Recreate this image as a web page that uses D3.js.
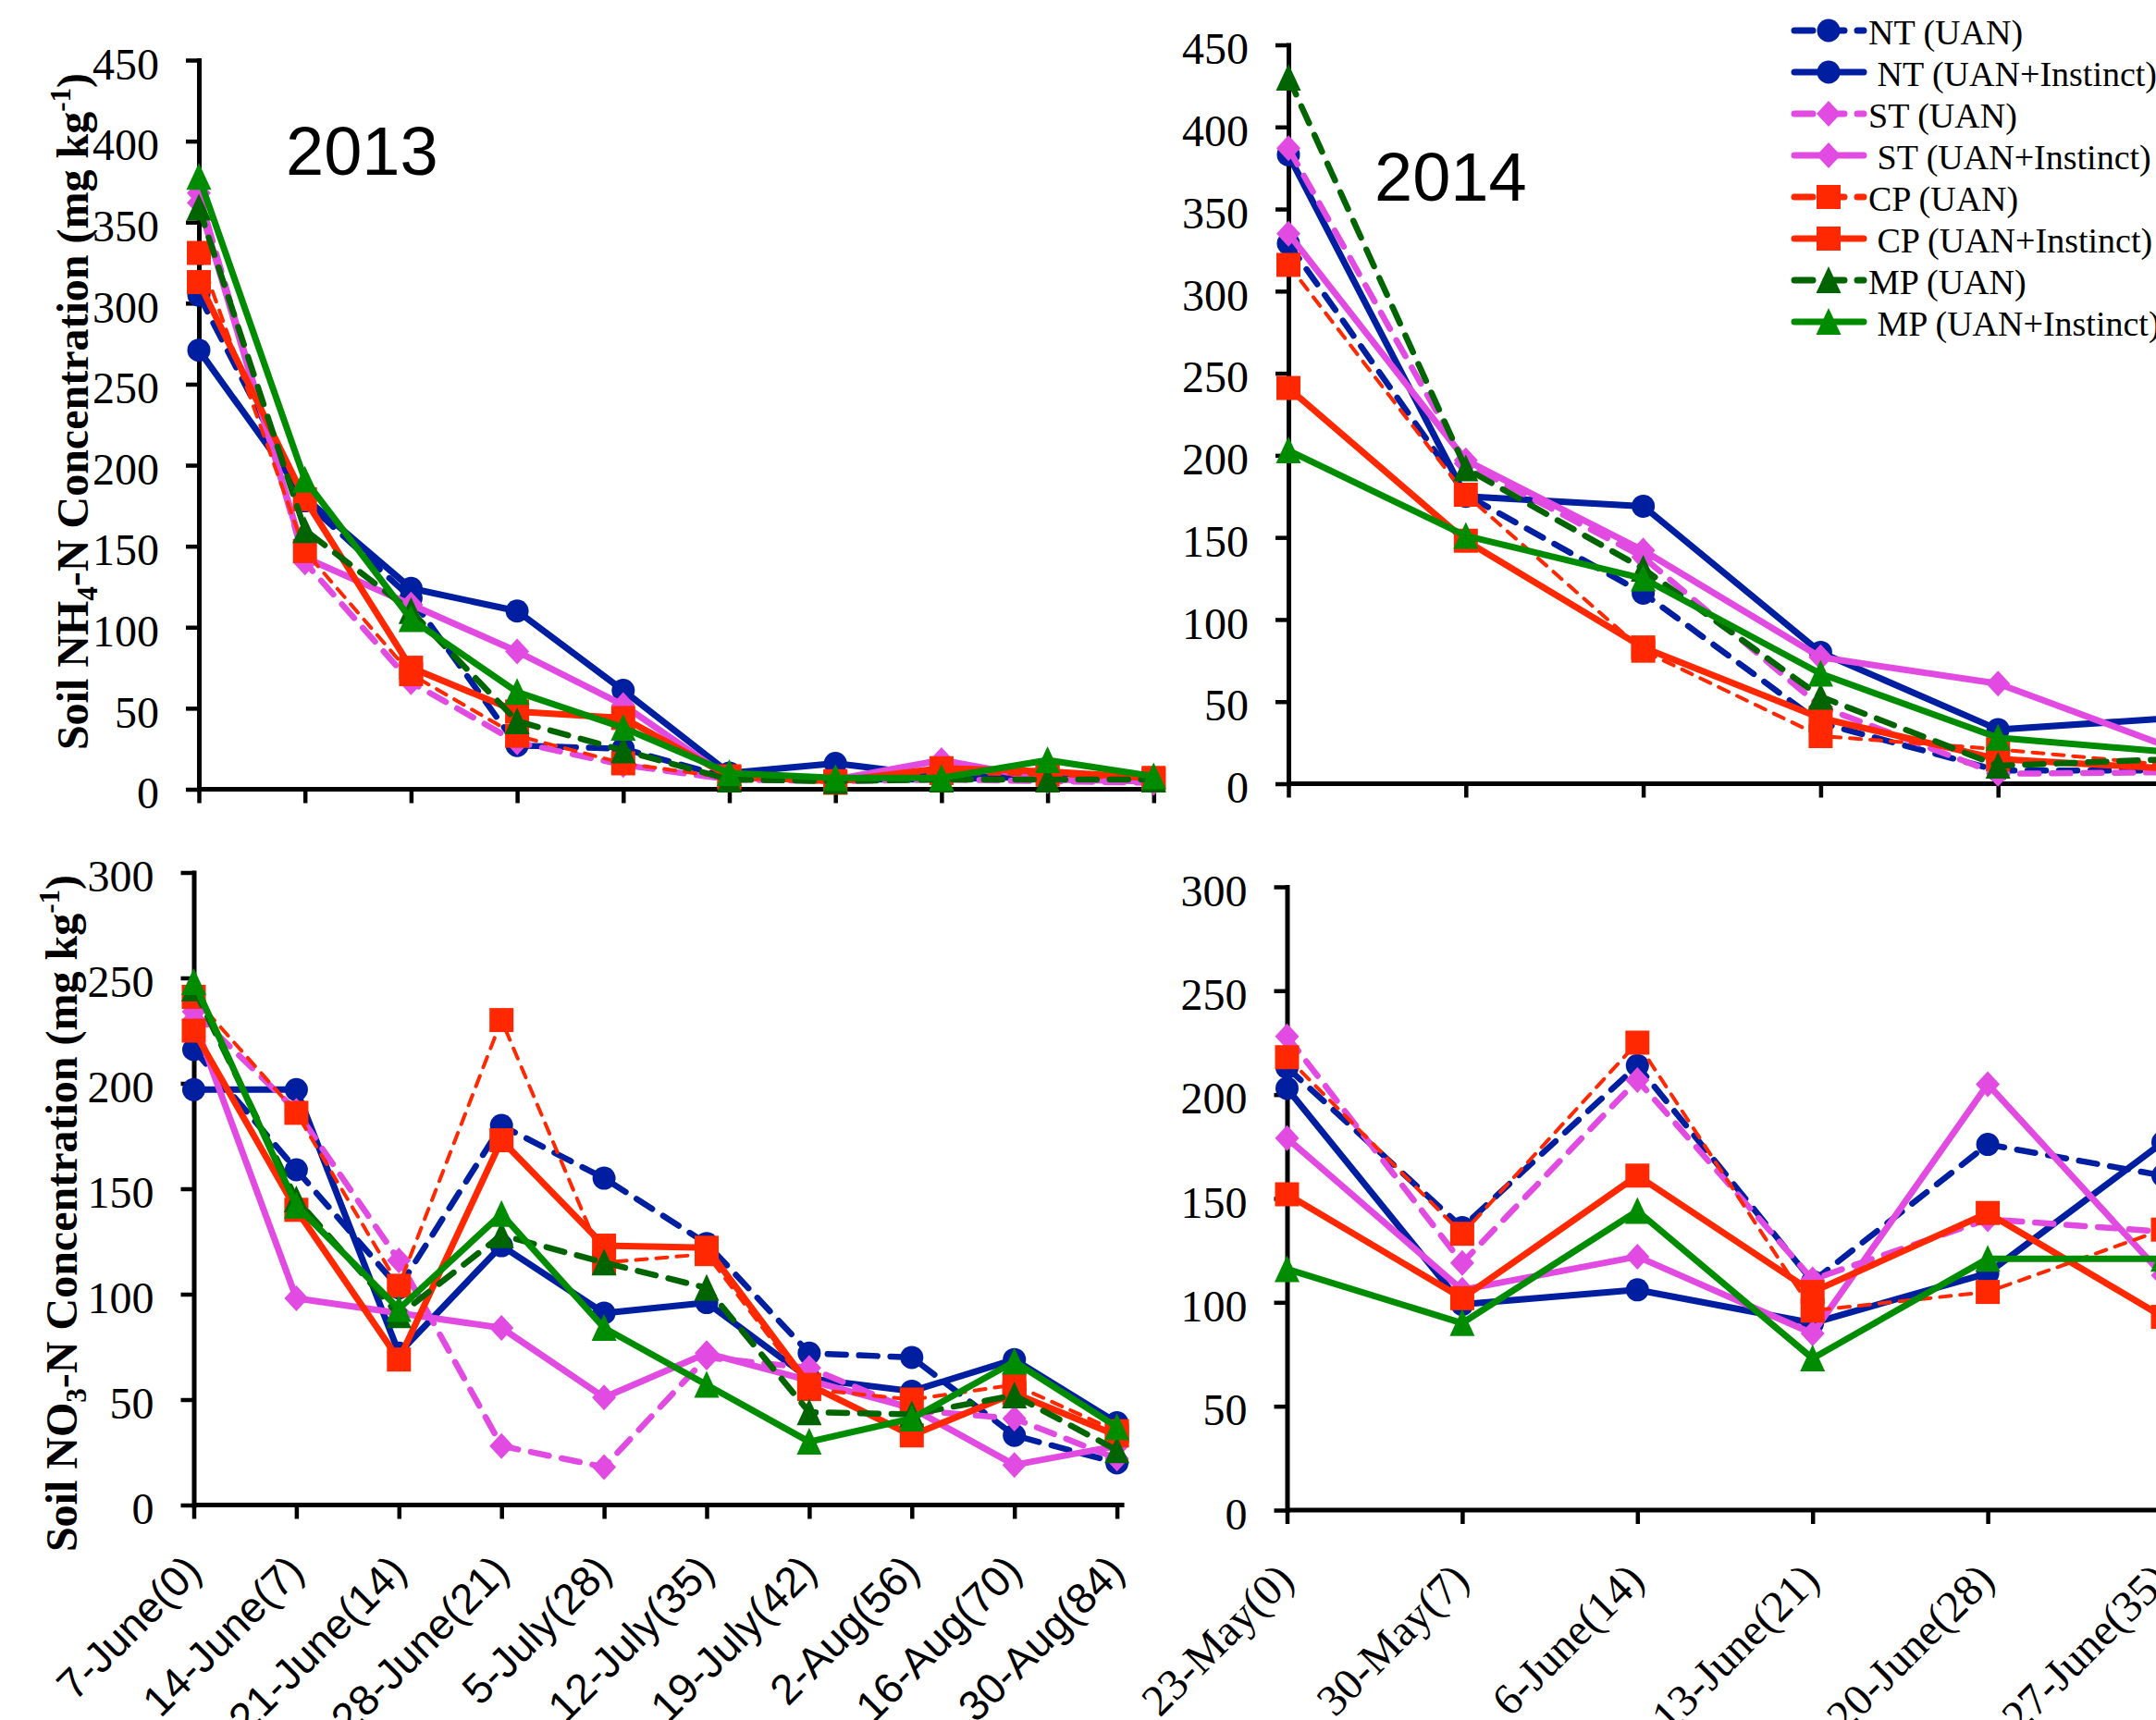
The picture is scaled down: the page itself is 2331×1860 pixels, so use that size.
<!DOCTYPE html>
<html><head><meta charset="utf-8">
<script src="https://cdn.jsdelivr.net/npm/d3@7"></script>
<style>body{margin:0;background:#fff;} svg{display:block;background:#fff;}</style>
</head><body>
<svg id="chart" width="2331" height="1860"></svg>
<script>
// ---------- data ----------
const cats2013 = ["7-June(0)","14-June(7)","21-June(14)","28-June(21)","5-July(28)","12-July(35)","19-July(42)","2-Aug(56)","16-Aug(70)","30-Aug(84)"];
const cats2014 = ["23-May(0)","30-May(7)","6-June(14)","13-June(21)","20-June(28)","27-June(35)"];
const seriesNames = ["NT (UAN)"," NT (UAN+Instinct)","ST (UAN)"," ST (UAN+Instinct)","CP (UAN)"," CP (UAN+Instinct)","MP (UAN)"," MP (UAN+Instinct)"];
const nh4Ticks = [0,50,100,150,200,250,300,350,400,450];
const no3Ticks = [0,50,100,150,200,250,300];

// Soil NH4-N, 2013 (series order as seriesNames)
const nh4_2013 = [
  [305,178,118,27,25,7,6,6,8,5],
  [271,180,124,110,61,10,16,8,7,5],
  [368,140,66,29,15,6,5,6,5,4],
  [362,143,114,85,52,7,6,18,6,5],
  [331,147,71,33,16,7,4,10,9,6],
  [313,179,75,48,44,8,5,13,11,7],
  [359,160,110,42,24,6,5,6,6,6],
  [378,191,105,60,38,10,7,7,18,8]
];
// Soil NH4-N, 2014
const nh4_2014 = [
  [329,176,116,37,8,8],
  [383,175,169,80,33,40],
  [387,195,138,47,6,7],
  [335,197,142,77,61,21],
  [316,176,81,29,21,11],
  [241,148,83,40,15,9],
  [430,192,131,53,11,15],
  [203,151,125,67,28,19]
];
// Soil NO3-N, 2013
const no3_2013 = [
  [216,159,103,180,155,124,72,70,33,20],
  [197,197,72,123,91,96,60,54,69,39],
  [234,187,116,28,18,70,65,45,41,22],
  [230,98,91,84,51,72,59,46,19,28],
  [241,186,104,230,115,119,55,50,57,35],
  [225,140,69,173,123,122,57,33,53,33],
  [245,145,90,128,115,103,44,43,52,26],
  [248,142,93,138,84,57,30,41,68,37]
];
// Soil NO3-N, 2014 (MP (UAN) not shown)
const no3_2014 = [
  [213,136,214,110,176,161],
  [203,99,106,90,114,177],
  [228,119,207,111,140,134],
  [179,106,122,85,205,113],
  [218,133,225,96,105,135],
  [152,102,161,105,143,93],
  null,
  [116,90,144,73,121,121]
];

// ---------- styles ----------
const BLUE="#001EA0", PINK="#E24BE2", RED="#FF2800", DGREEN="#006400", GREEN="#008C00";
const styles = [
  {color:BLUE, dash:"20,14", width:6.5, shape:"circle"},
  {color:BLUE, dash:null, width:7, shape:"circle"},
  {color:PINK, dash:"20,14", width:6.5, shape:"diamond"},
  {color:PINK, dash:null, width:7, shape:"diamond"},
  {color:RED, dash:"12,10", width:4, shape:"square"},
  {color:RED, dash:null, width:7, shape:"square"},
  {color:DGREEN, dash:"20,14", width:6.5, shape:"triangle"},
  {color:GREEN, dash:null, width:7, shape:"triangle"}
];
const shapes = {
  circle: {draw(c){ c.moveTo(12.5,0); c.arc(0,0,12.5,0,2*Math.PI); }},
  square: {draw(c){ c.rect(-13,-13,26,26); }},
  diamond:{draw(c){ c.moveTo(0,-14); c.lineTo(13,0); c.lineTo(0,14); c.lineTo(-13,0); c.closePath(); }},
  triangle:{draw(c){ c.moveTo(0,-15); c.lineTo(13.5,14); c.lineTo(-13.5,14); c.closePath(); }}
};
const SERIF = "'Liberation Serif','Times New Roman',serif";
const SANS = "'Liberation Sans',Arial,sans-serif";

const svg = d3.select("#chart");

function panel(cfg){
  const g = svg.append("g");
  const n = cfg.cats.length;
  const x = d3.scalePoint().domain(cfg.cats).range([cfg.x0, cfg.x0 + (n-1)*cfg.step]);
  const y = d3.scaleLinear().domain([0, cfg.yMax]).range([cfg.y0, cfg.yTop]);

  // y axis
  const gy = g.append("g").attr("transform",`translate(${cfg.x0},0)`)
    .call(d3.axisLeft(y).tickValues(cfg.yTicks).tickSize(14).tickSizeOuter(0).tickPadding(29));
  gy.attr("font-family", SERIF).attr("font-size", 48);
  gy.select(".domain").attr("stroke","#000").attr("stroke-width",5).attr("stroke-linecap","square");
  gy.selectAll(".tick line").attr("stroke","#000").attr("stroke-width",4.5);
  gy.selectAll(".tick text").attr("fill","#000").attr("dy","0.42em");

  // x axis
  const gx = g.append("g").attr("transform",`translate(0,${cfg.y0})`)
    .call(d3.axisBottom(x).tickSize(15).tickSizeOuter(0).tickFormat(cfg.showLabels ? (d=>d) : (()=>"")));
  gx.attr("font-family", cfg.labelFont).attr("font-size", cfg.labelSize);
  gx.select(".domain").attr("stroke","#000").attr("stroke-width",5)
    .attr("d", `M${cfg.x0},0H${x(cfg.cats[n-1]) + cfg.extend}`);
  gx.selectAll(".tick line").attr("stroke","#000").attr("stroke-width",4.5);
  gx.selectAll(".tick text").attr("fill","#000")
    .attr("x",0).attr("y",0).attr("dy",0)
    .attr("text-anchor","end")
    .attr("transform",`translate(${cfg.lblDx},${cfg.lblDy}) rotate(-45)`);

  // series
  cfg.data.forEach((vals,i)=>{
    if(!vals) return;
    const st = styles[i];
    const pts = vals.map((v,j)=>({c:cfg.cats[j], v}));
    g.append("path").datum(pts)
      .attr("d", d3.line().x(d=>x(d.c)).y(d=>y(d.v)))
      .attr("fill","none").attr("stroke",st.color).attr("stroke-width",st.width)
      .attr("stroke-linecap","round").attr("stroke-linejoin","round")
      .attr("stroke-dasharray", st.dash);
    g.selectAll(null).data(pts).join("path")
      .attr("transform", d=>`translate(${x(d.c)},${y(d.v)})`)
      .attr("d", d3.symbol(shapes[st.shape]))
      .attr("fill", st.color);
  });

  // y title
  if(cfg.title){
    const t = g.append("text")
      .attr("transform",`translate(${cfg.titleX},${cfg.titleY}) rotate(-90)`)
      .attr("text-anchor","middle").attr("font-family",SERIF).attr("font-weight","bold")
      .attr("font-size",48).attr("fill","#000");
    t.append("tspan").text(cfg.title[0]);
    t.append("tspan").attr("font-size","65%").attr("dy","0.32em").text(cfg.title[1]);
    t.append("tspan").attr("dy","-0.21em").text(cfg.title[2]);
    t.append("tspan").attr("font-size","65%").attr("dy","-0.6em").text(cfg.title[3]);
    t.append("tspan").attr("dy","0.39em").text(cfg.title[4]);
  }
  if(cfg.year){
    g.append("text").attr("x",cfg.yearX).attr("y",cfg.yearY)
      .attr("font-family",SANS).attr("font-size",74).attr("fill","#000").text(cfg.year);
  }
  return {x,y};
}

panel({cats:cats2013, data:nh4_2013, x0:215, step:114.7, y0:853.5, yTop:65, yMax:450, yTicks:nh4Ticks,
  showLabels:false, extend:8, labelFont:SANS, labelSize:46, lblDx:0, lblDy:0,
  title:["Soil NH","4","-N Concentration (mg kg","-1",")"], titleX:95, titleY:445,
  year:"2013", yearX:309, yearY:189});
panel({cats:cats2014, data:nh4_2014, x0:1393, step:191.8, y0:847.5, yTop:48.5, yMax:450, yTicks:nh4Ticks,
  showLabels:false, extend:0, labelFont:SERIF, labelSize:48, lblDx:0, lblDy:0,
  year:"2014", yearX:1486, yearY:217});
panel({cats:cats2013, data:no3_2013, x0:209.5, step:110.9, y0:1627.5, yTop:943.5, yMax:300, yTicks:no3Ticks,
  showLabels:true, extend:8, labelFont:SANS, labelSize:46, lblDx:10, lblDy:74,
  title:["Soil NO","3","-N Concentration (mg kg","-1",")"], titleX:83, titleY:1312});
panel({cats:cats2014, data:no3_2014, x0:1391.5, step:189.4, y0:1633, yTop:959, yMax:300, yTicks:no3Ticks,
  showLabels:true, extend:0, labelFont:SERIF, labelSize:48, lblDx:9, lblDy:78});

// ---------- legend ----------
const lg = svg.append("g");
seriesNames.forEach((name,i)=>{
  const st = styles[i];
  const yy = 33 + i*45;
  lg.append("line").attr("x1",1940).attr("x2",2015).attr("y1",yy).attr("y2",yy)
    .attr("stroke",st.color).attr("stroke-width",7)
    .attr("stroke-linecap","round").attr("stroke-dasharray", st.dash ? "20,14" : null);
  lg.append("path").attr("transform",`translate(1977,${yy})`)
    .attr("d", d3.symbol(shapes[st.shape])).attr("fill",st.color);
  lg.append("text").attr("x",2020).attr("y",yy+15)
    .attr("xml:space","preserve").style("white-space","pre")
    .attr("font-family",SERIF).attr("font-size",38).attr("fill","#000").text(name);
});
</script>
</body></html>
